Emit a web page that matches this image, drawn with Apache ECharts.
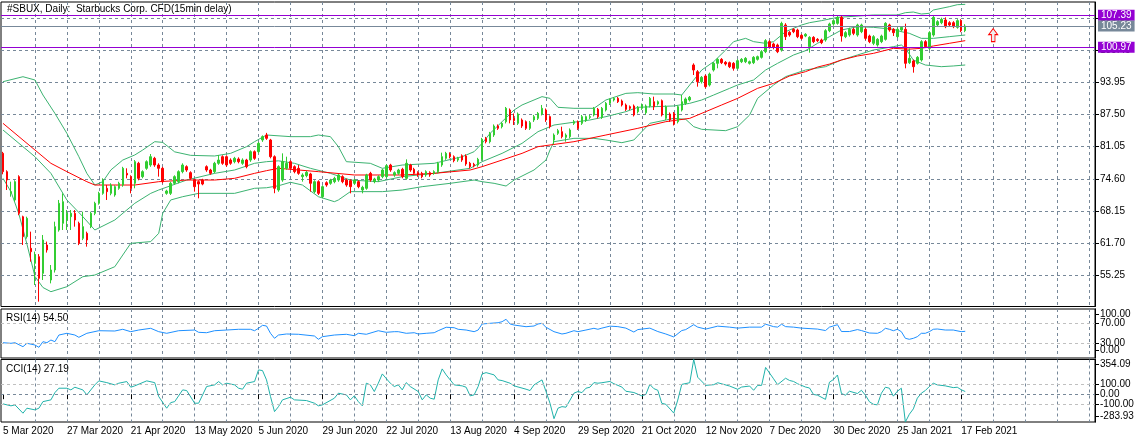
<!DOCTYPE html>
<html>
<head>
<meta charset="utf-8">
<title>#SBUX Daily</title>
<script src="https://cdn.jsdelivr.net/npm/echarts@6.0.0/dist/echarts.min.js"></script>
<style>
  html, body { margin: 0; padding: 0; background: #fff; }
  #chart { width: 1143px; height: 443px; }
</style>
</head>
<body>
<div id="chart"></div>
<script>
// ---- data ----
var opens = [79.70,76.03,71.68,70.35,75.03,66.99,63.00,60.65,57.65,58.98,55.64,61.32,54.30,56.31,64.33,65.67,66.33,67.00,67.67,65.67,
  62.66,63.66,65.00,67.67,69.68,71.68,72.69,71.68,71.35,72.69,73.35,75.69,75.03,73.69,77.70,75.03,76.70,77.36,78.70,77.36,
  76.70,71.68,71.68,73.69,74.02,76.03,77.03,75.83,74.35,74.02,74.35,77.03,76.36,76.03,77.70,79.03,79.03,78.36,78.03,78.57,
  77.70,78.36,78.36,80.04,80.04,82.38,83.38,82.38,79.03,72.35,74.35,76.70,78.03,77.03,76.70,75.03,75.23,75.56,72.02,74.02,
  71.01,73.82,73.69,74.02,74.35,75.03,74.35,74.22,73.69,74.02,72.35,72.69,75.69,74.02,74.35,75.03,75.03,77.36,75.36,75.69,
  76.50,74.69,77.36,76.50,75.83,75.69,75.36,75.83,75.69,76.03,77.36,78.70,79.57,79.03,78.36,79.23,79.17,77.70,77.50,77.36,
  78.50,82.71,82.04,83.38,85.18,85.05,86.05,88.39,86.72,85.72,86.39,86.05,84.72,86.39,86.72,87.59,88.39,87.06,82.38,83.71,
  84.05,82.91,83.05,85.72,86.05,85.72,86.25,86.92,87.39,88.53,86.92,88.39,89.73,90.40,90.73,90.20,89.40,89.06,89.20,88.06,
  88.73,87.86,89.20,90.06,89.60,90.26,86.72,87.59,87.72,86.05,88.39,89.73,90.40,97.42,96.08,94.07,95.21,93.41,96.41,97.75,
  98.55,97.95,97.88,97.75,96.75,98.08,98.08,97.75,97.88,98.55,98.95,100.09,102.10,101.63,101.43,100.42,105.44,103.97,104.57,104.43,
  103.37,103.23,101.09,102.96,102.56,102.43,102.43,104.30,105.64,105.77,106.97,103.10,103.43,104.57,103.43,104.10,104.57,103.23,101.76,101.43,
  102.10,102.56,105.44,104.57,103.10,104.43,104.57,97.88,98.22,97.75,98.42,102.10,100.76,103.43,105.44,105.90,106.44,105.90,105.90,104.97,
  106.31,104.30];
var highs = [80.00,76.30,74.02,74.30,75.30,67.20,67.00,64.00,60.00,59.50,63.33,62.00,57.31,66.00,70.35,71.68,68.34,68.34,68.34,66.00,
  68.00,64.00,68.00,70.00,72.00,74.70,73.35,73.70,73.30,74.00,77.00,76.70,75.30,78.36,78.00,76.30,78.30,79.57,79.00,77.70,
  77.00,72.40,74.00,75.30,76.30,77.70,77.30,76.10,74.60,74.30,74.60,77.30,76.60,78.00,79.37,79.30,79.30,78.70,79.00,78.90,
  78.70,78.60,80.30,80.30,82.00,83.30,83.80,82.60,79.30,77.30,79.70,79.03,78.30,77.30,77.36,75.70,76.20,75.80,74.30,74.30,
  73.30,74.10,74.60,75.00,75.60,75.30,74.60,74.50,74.60,74.30,73.20,75.60,76.00,74.80,75.30,76.60,77.50,77.60,76.10,76.60,
  76.80,78.50,77.60,76.80,76.10,76.00,76.30,76.10,76.30,78.00,79.84,80.00,79.90,79.30,79.00,79.50,79.50,78.00,77.80,78.80,
  82.80,83.00,84.00,85.50,85.50,86.00,89.00,88.70,87.70,87.90,86.70,86.30,86.20,87.40,88.00,89.40,88.70,87.30,83.70,84.60,
  85.05,83.70,84.70,86.40,86.30,87.40,87.30,87.40,89.00,88.80,89.00,90.00,90.70,91.00,91.00,90.50,89.70,89.30,89.50,89.20,
  89.70,89.50,91.00,91.07,90.30,90.50,89.30,87.90,88.00,89.30,91.40,90.90,91.20,97.75,96.40,95.20,95.50,95.90,98.00,98.80,
  98.80,98.20,98.10,98.00,98.60,98.80,99.00,98.30,99.20,99.30,100.40,102.60,102.40,101.90,101.70,106.10,105.80,104.20,104.80,104.70,
  103.60,103.80,103.20,103.20,102.80,102.70,104.60,105.90,106.60,107.30,107.30,104.20,104.90,104.90,105.70,105.70,104.90,103.50,103.40,102.80,
  103.50,106.00,105.70,104.80,104.90,105.20,105.70,100.76,98.50,99.20,102.40,102.40,104.20,107.30,106.40,106.90,106.97,106.20,106.20,106.60,
  106.60,105.60];
var lows = [75.50,72.35,71.01,70.00,67.30,61.32,62.60,57.98,53.30,49.96,54.30,59.80,53.63,55.80,64.00,64.33,64.33,64.33,65.00,61.30,
  62.30,60.99,64.70,67.30,69.40,71.40,70.35,71.30,71.01,72.40,73.00,74.69,71.68,72.69,74.30,74.70,76.40,77.00,77.00,75.03,
  73.70,71.40,71.35,73.40,73.70,75.70,76.00,74.40,72.02,70.68,73.30,76.00,75.40,75.70,77.40,77.40,77.00,77.40,77.70,77.70,
  77.40,76.70,78.00,78.40,79.70,82.00,82.40,78.70,71.70,72.00,74.00,76.40,76.40,75.70,75.40,74.02,74.90,72.02,71.70,71.35,
  70.70,73.00,73.40,73.70,74.00,73.70,73.00,71.68,73.40,72.70,71.68,72.40,74.00,73.70,74.00,74.70,74.70,76.00,75.00,75.40,
  74.70,74.40,76.00,75.40,75.00,74.70,75.00,75.00,75.40,75.70,77.00,78.40,78.70,77.90,78.00,78.00,77.20,76.70,76.90,77.00,
  78.20,81.70,81.70,83.00,84.40,84.70,85.70,85.72,85.38,85.40,84.80,84.40,84.40,86.00,86.40,87.30,86.00,84.70,81.50,83.40,
  82.70,82.04,82.70,85.40,84.40,85.40,86.00,86.60,87.10,86.70,86.60,88.10,89.40,90.10,89.80,89.10,88.20,88.40,87.10,87.70,
  88.40,87.50,88.90,88.39,89.30,87.10,86.40,86.00,85.30,85.70,88.10,89.40,90.10,95.41,93.07,93.70,92.74,93.10,96.10,96.75,
  97.60,97.30,96.80,96.28,96.50,97.80,97.80,97.50,97.60,98.30,98.70,99.80,100.70,100.56,99.80,100.10,102.43,103.10,103.80,102.80,
  102.50,103.00,99.89,101.80,102.00,101.60,102.10,104.00,105.30,105.50,102.10,102.80,103.10,103.40,103.10,103.80,102.40,101.80,101.40,101.10,
  101.80,102.30,104.10,103.23,102.80,104.10,96.75,97.60,95.88,97.50,98.10,100.80,100.40,103.10,105.10,105.60,104.80,105.10,104.80,104.70,
  104.00,104.00];
var closes = [76.03,74.36,72.02,74.02,67.67,63.00,66.67,59.98,59.32,54.64,62.33,60.32,56.31,65.00,69.68,70.01,67.67,67.67,66.33,61.66,
  65.00,62.33,67.67,69.68,71.68,74.35,72.02,73.35,73.02,73.69,76.70,75.36,72.69,78.03,74.69,76.03,78.03,79.03,77.36,76.70,
  74.02,72.15,73.69,75.03,76.03,77.36,76.36,74.69,73.02,73.55,73.55,76.36,75.69,77.70,78.36,77.70,77.36,77.70,78.70,78.03,
  78.36,77.03,80.04,78.70,81.71,83.05,82.71,79.03,72.69,77.03,78.03,77.70,76.70,76.03,75.69,75.36,75.89,73.69,74.02,71.68,
  73.02,73.35,74.35,74.69,75.36,74.02,73.35,73.02,74.35,73.02,72.88,75.36,74.35,74.56,75.03,76.36,77.23,76.36,75.83,76.36,
  75.03,77.70,76.36,75.69,75.36,75.03,76.03,75.36,76.03,77.70,79.03,79.70,79.03,78.23,78.70,78.36,77.57,77.03,77.23,78.50,
  82.51,82.04,83.71,85.18,84.72,85.72,88.73,86.39,86.25,87.59,85.18,84.72,85.85,87.06,87.72,88.73,86.39,85.05,83.38,84.25,
  83.05,83.38,84.38,86.05,84.72,87.06,87.06,87.06,88.73,87.06,88.73,89.73,90.40,90.73,90.06,89.40,88.53,88.73,87.39,88.93,
  89.40,89.20,90.73,89.06,90.06,87.39,89.06,86.39,85.59,89.06,90.06,90.60,90.93,96.41,94.07,94.94,93.07,95.61,97.75,98.55,
  97.88,97.62,97.08,96.75,98.28,98.55,98.75,98.08,98.95,99.09,100.09,102.30,100.96,100.96,100.09,105.77,103.10,103.43,104.10,103.10,
  102.76,103.57,102.96,102.10,102.30,101.90,104.30,105.64,106.31,106.97,103.23,103.90,104.57,103.77,105.44,105.44,102.76,102.10,103.10,102.56,
  103.23,105.77,104.43,103.90,104.57,104.97,97.75,98.75,97.08,98.95,102.10,101.09,103.90,106.97,106.11,106.57,105.10,105.44,105.10,106.31,
  104.30,105.23];

// Bollinger bands (20) and the red moving average, [bar index, price]
var upperBand = [[0,94.07],[5,95.07],[8,94.41],[10,91.4],[13,87.72],[16,83.71],[19,79.03],[21,75.69],[23,73.35],[25,74.02],[27,76.36],
  [30,78.36],[33,79.37],[35,80.37],[38,82.04],[40,81.9],[43,80.0],[47,79.3],[53,79.17],[57,79.7],[61,81.04],[63,82.04],[66,83.38],
  [72,83.05],[77,83.05],[79,83.38],[82,83.05],[84,81.04],[86,78.03],[92,77.7],[95,76.7],[100,77.36],[108,77.7],[115,79.03],[118,80.04],
  [120,81.71],[122,83.71],[125,86.05],[128,88.39],[130,89.4],[133,90.4],[135,91.07],[137,90.73],[139,88.93],[143,88.73],[148,88.73],
  [151,90.4],[156,91.73],[159,91.87],[163,91.6],[168,91.6],[170,91.4],[172,93.41],[175,96.41],[178,98.08],[181,100.42],[183,102.1],
  [186,102.76],[188,102.1],[191,101.76],[193,102.1],[196,104.1],[200,105.44],[202,105.9],[205,106.31],[209,106.97],[218,107.44],
  [224,107.44],[226,107.91],[228,108.04],[230,107.64],[232,107.78],[233,108.44],[237,109.11],[239,109.51],[241,109.58]];
var middleBand = [[0,84.38],[4,81.71],[8,79.03],[12,75.69],[16,70.35],[20,67.0],[23,64.33],[28,66.33],[33,69.68],[37,71.68],[39,72.35],
  [46,74.35],[53,75.69],[58,76.36],[63,77.7],[66,78.03],[69,78.2],[73,77.7],[77,76.7],[82,75.69],[87,74.35],[94,74.02],[100,75.03],
  [108,75.69],[117,76.7],[120,78.03],[125,79.7],[130,81.71],[134,84.05],[138,85.38],[141,85.72],[147,86.39],[151,87.06],[156,88.06],
  [159,88.93],[163,89.06],[168,89.2],[172,89.73],[175,90.4],[178,91.4],[182,92.74],[184,93.41],[188,94.41],[191,96.41],[194,97.75],
  [198,99.42],[201,100.29],[204,101.76],[207,103.1],[210,104.43],[214,105.1],[218,104.97],[223,104.57],[225,104.1],[227,103.77],
  [230,102.76],[233,102.76],[237,103.1],[241,103.43]];
var lowerBand = [[0,74.69],[2,72.0],[4,67.5],[6,61.5],[8,55.0],[10,52.8],[12,51.96],[16,52.96],[20,54.97],[23,55.3],[28,56.97],
  [32,61.66],[37,62.0],[39,63.66],[40,67.67],[42,70.35],[45,71.01],[49,71.68],[58,71.68],[63,72.69],[66,72.8],[69,73.2],[72,73.9],
  [75,73.35],[79,71.01],[83,70.01],[84,70.35],[87,72.02],[95,72.02],[100,72.35],[105,73.02],[112,73.69],[118,74.35],[120,74.02],
  [123,73.69],[126,73.15],[128,74.35],[133,76.36],[136,78.36],[137,80.37],[138,82.04],[143,82.71],[148,82.71],[151,82.38],[155,81.84],
  [158,82.38],[162,85.72],[168,86.72],[171,86.52],[173,85.05],[175,84.52],[181,84.25],[184,85.05],[187,87.39],[189,90.73],[193,93.41],
  [196,95.08],[201,96.41],[206,97.08],[210,98.42],[214,99.42],[218,100.42],[223,101.09],[225,101.43],[226,100.76],[228,98.42],
  [231,97.42],[235,97.08],[238,97.22],[241,97.42]];
var redAverage = [[0,85.72],[8,80.37],[12,77.7],[16,76.03],[21,74.02],[23,73.35],[33,73.35],[39,74.02],[46,74.35],[53,74.35],[58,74.69],
  [63,75.69],[66,76.23],[69,76.7],[79,76.03],[88,75.36],[100,75.36],[108,75.69],[117,76.36],[120,77.03],[125,78.36],[130,79.7],
  [134,81.04],[143,82.04],[151,83.38],[159,84.72],[166,86.05],[169,86.39],[172,86.72],[176,88.06],[180,89.4],[184,90.73],[189,92.74],
  [193,93.74],[197,95.21],[201,96.08],[204,97.0],[207,97.6],[210,98.42],[214,99.22],[218,99.75],[223,100.76],[227,100.6],[230,100.76],
  [233,101.23],[237,101.76],[241,102.3]];

// RSI(14) and CCI(14), [bar index, value]
var rsiPoints = [[0,31.2],[2,30.0],[3,31.2],[5,23.1],[6,30.0],[8,26.5],[9,21.8],[10,33.3],[11,31.2],[12,36.7],[13,33.3],[14,46.9],
  [16,50.4],[18,46.9],[19,42.2],[21,50.4],[24,55.7],[28,55.1],[30,58.6],[32,53.7],[34,57.1],[37,60.6],[39,53.7],[41,50.4],[44,55.7],
  [48,57.1],[49,52.4],[51,51.6],[53,55.7],[56,57.1],[59,58.6],[62,58.6],[63,55.7],[64,60.6],[65,66.7],[66,65.3],[67,50.4],[68,40.2],
  [69,46.9],[71,49.0],[74,48.4],[78,44.9],[79,38.2],[80,43.5],[83,46.9],[86,48.4],[88,45.5],[89,50.4],[91,48.4],[94,55.7],[96,52.4],
  [98,53.7],[99,53.7],[101,50.4],[103,51.6],[104,49.0],[106,50.4],[108,51.6],[109,55.7],[111,62.7],[113,61.8],[114,58.6],[116,57.1],
  [118,53.7],[119,57.1],[120,69.4],[122,70.8],[124,72.0],[125,74.1],[126,79.0],[127,69.4],[128,67.3],[131,63.9],[133,65.3],[134,69.4],
  [135,70.8],[136,62.7],[138,53.7],[140,49.0],[141,50.4],[143,55.7],[144,53.7],[146,57.1],[148,60.6],[149,58.6],[150,61],[152,65],
  [154,64],[156,61],[158,53],[159,58],[162,61],[164,54],[166,49],[168,43],[170,56],[171,58],[173,68],[174,63],[176,59],[179,65],
  [182,63],[184,61],[187,63],[190,63],[191,69],[193,64],[194,63],[195,69],[196,64],[198,63],[200,61],[204,59],[206,56],[207,63],
  [209,68],[210,54],[212,54],[214,58],[215,56],[217,51],[219,50.4],[220,53.7],[221,60.6],[222,58.6],[223,55.7],[224,58.6],[225,53.7],
  [226,40.2],[227,38.2],[228,40.2],[229,43.5],[230,50.4],[231,50.4],[232,53.7],[233,58.6],[234,59.2],[236,57.1],[238,57.1],[240,53.7],
  [241,54.5]];
var cciPoints = [[0,-99],[2,-119],[3,-109],[5,-194],[6,-143],[8,-160],[9,-143],[10,-76],[12,-58],[13,16],[14,61],[16,61],[17,44],
  [18,71],[20,44],[21,-7],[23,95],[24,136],[26,118],[28,95],[29,112],[31,129],[32,71],[33,85],[36,136],[38,118],[39,-24],[41,-143],
  [42,-86],[43,-76],[45,44],[46,37],[48,-92],[49,-92],[50,-7],[51,78],[53,95],[54,129],[55,95],[56,112],[58,95],[59,61],[60,51],
  [61,112],[63,129],[64,248],[65,241],[66,146],[67,-24],[68,-178],[69,-127],[70,-58],[72,-31],[73,-58],[76,-65],[78,-92],[79,-119],
  [80,-109],[83,-41],[84,10],[86,-7],[87,-58],[88,-17],[89,-76],[90,-119],[91,112],[92,95],[93,27],[94,112],[95,207],[97,112],[98,78],
  [99,95],[100,44],[101,118],[102,78],[104,27],[105,-58],[106,-7],[107,-41],[108,-51],[109,146],[110,258],[111,197],[112,146],[113,95],
  [115,85],[116,71],[117,-17],[118,-7],[119,78],[120,207],[121,220],[123,197],[124,146],[125,139],[127,112],[128,85],[131,51],[132,37],
  [133,95],[135,146],[136,27],[137,-92],[138,-250],[139,-143],[140,-127],[141,-133],[143,10],[144,27],[145,16],[146,61],[147,71],
  [148,118],[149,112],[150,117],[152,130],[153,107],[155,73],[156,30],[158,17],[159,0],[160,-17],[161,-3],[162,100],[163,57],[164,40],
  [165,-93],[166,-103],[168,-193],[169,-60],[170,100],[172,117],[173,354.09],[174,173],[176,90],[178,97],[179,117],[182,83],[184,50],
  [185,73],[187,83],[188,40],[189,90],[190,90],[191,273],[193,157],[194,97],[196,163],[197,140],[198,130],[199,107],[201,73],[202,63],
  [203,-3],[204,-10],[206,-53],[207,123],[208,150],[209,196],[210,7],[211,-10],[212,30],[214,7],[215,40],[216,-10],[217,-77],[218,-103],
  [219,-109],[220,10],[221,71],[222,61],[223,-20],[224,30],[225,61],[226,-283.93],[227,-205],[228,-150],[229,-41],[230,10],[231,37],
  [232,78],[233,112],[234,95],[236,85],[238,67],[239,71],[240,45],[241,27.19]];

// horizontal price lines and axis ticks
var priceLevels = [107.39, 105.23, 100.97];
var priceTicks = [55.25, 61.70, 68.15, 74.60, 81.05, 87.50, 93.95, 100.40, 106.85];
// indicator scale labels: where each is drawn, and its text (outer ones sit just inside the pane edge)
var rsiLabelAtA = [89.8, 30], rsiLabelTextA = ['100.00', '30.00'];
var rsiLabelAtB = [70, 14.9], rsiLabelTextB = ['70.00', '0.00'];
var cciLabelAtA = [306.1, 0, -228.6], cciLabelTextA = ['354.09', '0.00', '-283.93'];
var cciLabelAtB = [100, -100], cciLabelTextB = ['100.00', '-100.00'];
var arrowMark = [248, 103.4];

// trading days (NYSE calendar) from 5 Mar 2020
var holidays = ['2020-04-10','2020-05-25','2020-07-03','2020-09-07','2020-11-26','2020-12-25','2021-01-01','2021-01-18','2021-02-15'];
var monthNames = ['Jan','Feb','Mar','Apr','May','Jun','Jul','Aug','Sep','Oct','Nov','Dec'];
var SLOTS = 274, BARS = opens.length;
var dates = [];
var d = new Date(Date.UTC(2020, 2, 5));
while (dates.length < SLOTS) {
  var iso = d.toISOString().slice(0, 10);
  var wd = d.getUTCDay();
  if (wd !== 0 && wd !== 6 && holidays.indexOf(iso) < 0) {
    dates.push(d.getUTCDate() + ' ' + monthNames[d.getUTCMonth()] + ' ' + d.getUTCFullYear());
  }
  d = new Date(d.getTime() + 86400000);
}

var FONT = '"Liberation Sans", Arial, sans-serif';
var GRID_COLOR = '#778899';

var candles = [];
for (var i = 0; i < BARS; i++) candles.push([opens[i], closes[i], lows[i], highs[i]]);

function every16(idx) { return idx % 16 === 0 && idx < BARS; }
function every8(idx) { return idx % 8 === 0 && idx > 0; }

function makeX(gi, withLabels) {
  return {
    type: 'category', gridIndex: gi, data: dates, boundaryGap: true,
    axisLine: { show: false },
    axisTick: { show: withLabels, alignWithLabel: true, interval: every16, length: 5, lineStyle: { color: '#000' } },
    axisLabel: { show: withLabels, interval: every16, align: 'left', margin: 4, fontSize: 10, fontFamily: FONT, color: '#000' },
    splitLine: { show: true, interval: every8, alignWithLabel: true, lineStyle: { color: GRID_COLOR, type: [3, 3], width: 1 } }
  };
}

// nearest label text for a custom tick position
function labelFor(at, texts, v) {
  var best = 0;
  for (var k = 1; k < at.length; k++) {
    if (Math.abs(at[k] - v) < Math.abs(at[best] - v)) best = k;
  }
  return texts ? texts[best] : Number(v).toFixed(2);
}

function sideAxis(gi, min, max, at, texts) {
  return {
    type: 'value', gridIndex: gi, position: 'right', min: min, max: max,
    axisLine: { show: true, lineStyle: { color: '#000' } },
    axisTick: { show: true, length: 4, customValues: at, lineStyle: { color: '#000' } },
    axisLabel: {
      customValues: at, margin: 5, fontSize: 10, fontFamily: FONT, color: '#000', hideOverlap: false,
      showMinLabel: true, showMaxLabel: true,
      formatter: function (v) { return labelFor(at, texts, v); }
    },
    splitLine: { show: false }
  };
}

function bandLine(points, color) {
  return {
    type: 'line', xAxisIndex: 0, yAxisIndex: 0, data: points, showSymbol: false, symbol: 'none',
    lineStyle: { color: color, width: 1 }, silent: true, z: 1
  };
}

var mainY = sideAxis(0, 48.99, 110.05, priceTicks, null);
mainY.splitLine = { show: true, lineStyle: { color: GRID_COLOR, type: [3, 3], width: 1 } };

var option = {
  animation: false,
  backgroundColor: '#fff',
  textStyle: { fontFamily: FONT },
  title: [
    { text: '#SBUX, Daily:  Starbucks Corp. CFD(15min delay)', left: 7, top: 4, padding: 0,
      textStyle: { fontSize: 10, fontWeight: 'normal', color: '#000', fontFamily: FONT } },
    { text: 'RSI(14) 54.50', left: 6, top: 313, padding: 0,
      textStyle: { fontSize: 10, fontWeight: 'normal', color: '#000', fontFamily: FONT } },
    { text: 'CCI(14) 27.19', left: 6, top: 364, padding: 0,
      textStyle: { fontSize: 10, fontWeight: 'normal', color: '#000', fontFamily: FONT } }
  ],
  grid: [
    { left: 1, top: 2, width: 1094, height: 304.5, show: true, borderColor: '#000', borderWidth: 1, outerBoundsMode: 'none' },
    { left: 1, top: 309, width: 1094, height: 49, show: true, borderColor: '#000', borderWidth: 1, outerBoundsMode: 'none' },
    { left: 1, top: 359.5, width: 1094, height: 62.5, show: true, borderColor: '#000', borderWidth: 1, outerBoundsMode: 'none' }
  ],
  xAxis: [makeX(0, false), makeX(1, false), makeX(2, true)],
  yAxis: [
    mainY,
    sideAxis(1, 0, 100, rsiLabelAtA, rsiLabelTextA),
    sideAxis(2, -283.93, 354.09, cciLabelAtA, cciLabelTextA),
    sideAxis(1, 0, 100, rsiLabelAtB, rsiLabelTextB),
    sideAxis(2, -283.93, 354.09, cciLabelAtB, cciLabelTextB)
  ],
  series: [
    bandLine(upperBand, '#3CB371'),
    bandLine(middleBand, '#3CB371'),
    bandLine(lowerBand, '#3CB371'),
    bandLine(redAverage, '#FF0000'),
    {
      type: 'candlestick', xAxisIndex: 0, yAxisIndex: 0, data: candles, barWidth: 2, z: 3,
      itemStyle: { color: '#32CD32', color0: '#FF0000', borderColor: '#32CD32', borderColor0: '#FF0000', borderWidth: 1 },
      markLine: {
        symbol: 'none', silent: true, animation: false,
        lineStyle: { type: 'solid', width: 1 },
        label: {
          show: true, position: 'end', distance: 3, color: '#fff', fontSize: 10, fontFamily: FONT,
          padding: [1, 3, 0, 3], formatter: function (p) { return p.value.toFixed(2); }
        },
        data: [
          { yAxis: priceLevels[0], lineStyle: { color: '#9400D3' }, label: { backgroundColor: '#9400D3' } },
          { yAxis: priceLevels[1], lineStyle: { color: '#778899' }, label: { backgroundColor: '#778899' } },
          { yAxis: priceLevels[2], lineStyle: { color: '#9400D3' }, label: { backgroundColor: '#9400D3' } }
        ]
      },
      markPoint: {
        silent: true, animation: false,
        data: [{
          coord: arrowMark, symbol: 'path://M5,0 L10,6 L7,6 L7,13 L3,13 L3,6 L0,6 Z', symbolSize: [9, 13],
          itemStyle: { color: '#eeeeee', borderColor: '#FF0000', borderWidth: 1 }, label: { show: false }
        }]
      }
    },
    {
      type: 'line', xAxisIndex: 1, yAxisIndex: 1, data: rsiPoints, showSymbol: false, symbol: 'none',
      lineStyle: { color: '#1E90FF', width: 1 }, silent: true,
      markLine: {
        symbol: 'none', silent: true, animation: false, label: { show: false },
        lineStyle: { color: '#C0C0C0', type: [3, 3], width: 1 },
        data: [{ yAxis: 70 }, { yAxis: 30 }]
      }
    },
    {
      type: 'line', xAxisIndex: 2, yAxisIndex: 2, data: cciPoints, showSymbol: false, symbol: 'none',
      lineStyle: { color: '#20B2AA', width: 1 }, silent: true,
      markLine: {
        symbol: 'none', silent: true, animation: false, label: { show: false },
        lineStyle: { color: '#C0C0C0', type: [3, 3], width: 1 },
        data: [{ yAxis: 100 }, { yAxis: -100 }, { yAxis: 0, lineStyle: { color: GRID_COLOR } }]
      }
    }
  ]
};

var myChart = echarts.init(document.getElementById('chart'), null, { renderer: 'canvas' });
myChart.setOption(option);
window.addEventListener('resize', myChart.resize);
</script>
</body>
</html>
